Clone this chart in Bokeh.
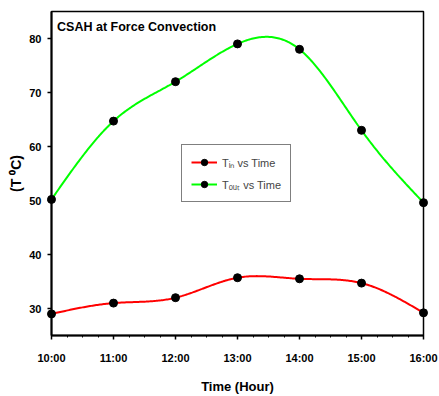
import numpy as np
from bokeh.plotting import figure
from bokeh.models import FixedTicker, Label, Legend, LegendItem, Range1d
from bokeh.embed import file_html
from bokeh.resources import INLINE

# ---- data ----
hours = [10, 11, 12, 13, 14, 15, 16]
time_labels = ["10:00", "11:00", "12:00", "13:00", "14:00", "15:00", "16:00"]
t_in = [29.0, 31.0, 32.0, 35.7, 35.5, 34.7, 29.2]
t_out = [50.2, 64.7, 72.0, 79.0, 78.0, 63.0, 49.6]
y_ticks = [30, 40, 50, 60, 70, 80]

FONT = "Liberation Sans"


def natural_spline(x, y, n=300):
    x = np.asarray(x, float)
    y = np.asarray(y, float)
    m = len(x)
    h = np.diff(x)
    A = np.zeros((m, m))
    rhs = np.zeros(m)
    A[0, 0] = A[-1, -1] = 1.0
    for i in range(1, m - 1):
        A[i, i - 1] = h[i - 1]
        A[i, i] = 2 * (h[i - 1] + h[i])
        A[i, i + 1] = h[i]
        rhs[i] = 3 * ((y[i + 1] - y[i]) / h[i] - (y[i] - y[i - 1]) / h[i - 1])
    c = np.linalg.solve(A, rhs)
    b = (y[1:] - y[:-1]) / h - h * (2 * c[:-1] + c[1:]) / 3
    d = (c[1:] - c[:-1]) / (3 * h)
    xs = np.linspace(x[0], x[-1], n)
    idx = np.clip(np.searchsorted(x, xs, side="right") - 1, 0, m - 2)
    dt = xs - x[idx]
    ys = y[idx] + b[idx] * dt + c[idx] * dt ** 2 + d[idx] * dt ** 3
    return xs, ys


p = figure(width=439, height=396, output_backend="svg", toolbar_location=None,
           x_range=Range1d(10, 16), y_range=Range1d(25, 85),
           min_border_left=51, min_border_right=16, min_border_top=11, min_border_bottom=55)
p.background_fill_color = "white"
p.border_fill_color = "white"
p.outline_line_color = "black"
p.outline_line_width = 1.5
p.grid.visible = False

xs_in, ys_in = natural_spline(hours, t_in)
xs_out, ys_out = natural_spline(hours, t_out)

l_in = p.line(xs_in, ys_in, line_color="#ff0000", line_width=2)
l_out = p.line(xs_out, ys_out, line_color="#00ff00", line_width=2)
s_in = p.scatter(hours, t_in, size=8, fill_color="black", line_color="black", level="overlay")
s_out = p.scatter(hours, t_out, size=8, fill_color="black", line_color="black", level="overlay")

# axes
xa = p.xaxis[0]
xa.ticker = FixedTicker(ticks=hours, minor_ticks=list(np.arange(10, 16.01, 0.25)))
xa.major_label_overrides = {h: t for h, t in zip(hours, time_labels)}
ya = p.yaxis[0]
ya.ticker = FixedTicker(ticks=y_ticks)

for ax in (xa, ya):
    ax.axis_line_width = 2
    ax.axis_line_color = "black"
    ax.major_tick_out = 4
    ax.major_tick_in = 0
    ax.major_tick_line_width = 1.5
    ax.major_label_text_font = FONT
    ax.major_label_text_font_style = "bold"
    ax.major_label_text_font_size = "11px"
    ax.major_label_text_color = "black"
    ax.axis_label_text_font = FONT
    ax.axis_label_text_font_style = "bold"
    ax.axis_label_text_font_size = "13px"
    ax.axis_label_text_color = "black"

xa.minor_tick_out = 2
xa.minor_tick_in = 0
xa.minor_tick_line_color = "black"
xa.major_label_standoff = 12
xa.axis_label = "Time (Hour)"
xa.axis_label_standoff = 12

ya.minor_tick_line_color = None
ya.major_label_standoff = 6
ya.axis_label = "(T \u2070C)"
ya.axis_label_text_font_size = "14px"
ya.axis_label_standoff = 2

# title inside plot
p.add_layout(Label(x=10.09, y=83.5, text="CSAH at Force Convection", text_font=FONT,
                   text_font_style="bold", text_font_size="12.5px", text_baseline="top",
                   text_color="black"))

legend = Legend(items=[
    LegendItem(label="T\u1d62\u2099 vs Time", renderers=[l_in, s_in]),
    LegendItem(label="T\u2092\u1d64\u209c vs Time", renderers=[l_out, s_out]),
], location=(130, 133))
legend.border_line_color = "black"
legend.border_line_width = 1
legend.background_fill_alpha = 1
legend.label_text_font = FONT
legend.label_text_font_size = "11px"
legend.glyph_width = 26
legend.glyph_height = 16
legend.spacing = 6
legend.padding = 9
legend.margin = 0
legend.label_standoff = 5
p.add_layout(legend, "center")

open("out.html", "w").write(file_html(p, INLINE))
